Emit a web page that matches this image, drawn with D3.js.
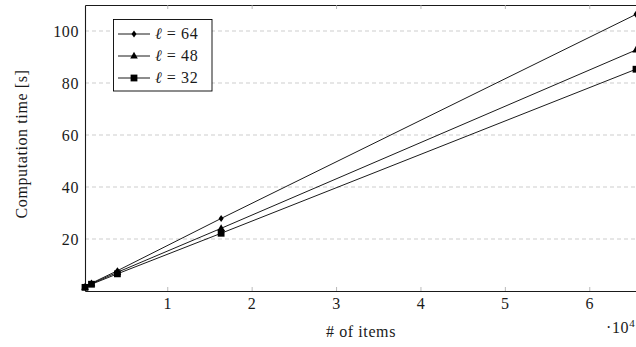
<!DOCTYPE html>
<html><head><meta charset="utf-8">
<script src="https://cdn.jsdelivr.net/npm/d3@7"></script>
<style>body{margin:0;background:#fff}svg{display:block}</style>
</head><body><svg id="c" width="636" height="347"></svg>
<script>
const items = [256, 1024, 4096, 16384, 65536];
const seriesNames = ["ℓ = 64", "ℓ = 48", "ℓ = 32"];
const l64 = [1.6, 3.0, 7.8, 27.9, 106.4];
const l48 = [1.5, 2.8, 7.2, 24.1, 92.7];
const l32 = [1.4, 2.6, 6.6, 22.2, 85.3];
const markers = ["diamond", "triangle", "square"];
const xTicks = [1, 2, 3, 4, 5, 6];
const yTicks = [20, 40, 60, 80, 100];

const FONT = '"Liberation Serif", serif';
const FS = "16px";
const LS = "0.6px";
const svg = d3.select("#c");
const m = {l: 85, r: 636, t: 5, b: 291};
const x = d3.scaleLinear().domain([256, 65536]).range([m.l, m.r]);
const y = d3.scaleLinear().domain([0, 110]).range([m.b, m.t]);
function styleText(sel) {
  return sel.style("font-family", FONT).style("font-size", FS).style("letter-spacing", LS).style("fill", "#1a1a1a");
}

// grid
svg.append("g").selectAll("line").data(yTicks).join("line")
  .attr("x1", m.l).attr("x2", m.r).attr("y1", d => y(d)).attr("y2", d => y(d))
  .attr("stroke", "#c0c0c0").attr("stroke-width", 0.8).attr("stroke-dasharray", "4,3");

// axes
const xAxis = d3.axisBottom(x).tickValues(xTicks.map(v => v * 1e4)).tickFormat(d => d / 1e4).tickSizeInner(-4).tickSizeOuter(0).tickPadding(7);
const gx = svg.append("g").attr("transform", `translate(0,${m.b})`).call(xAxis);
const xTop = d3.axisTop(x).tickValues(xTicks.map(v => v * 1e4)).tickFormat("").tickSizeInner(-4).tickSizeOuter(0);
const gxt = svg.append("g").attr("transform", `translate(0,${m.t})`).call(xTop);
const yAxis = d3.axisLeft(y).tickValues(yTicks).tickSizeInner(0).tickSizeOuter(0).tickPadding(6);
const gy = svg.append("g").attr("transform", `translate(${m.l},0)`).call(yAxis);
[gx, gxt, gy].forEach(g => {
  g.select(".domain").attr("stroke", "#1a1a1a").attr("stroke-width", 1.1);
  g.selectAll(".tick line").attr("stroke", "#a8a8a8").attr("stroke-width", 0.8);
  styleText(g.selectAll("text"));
});
gy.selectAll("text").attr("dy", "0.35em");

// axis labels
styleText(svg.append("text")).attr("x", 361).attr("y", 337).attr("text-anchor", "middle").text("# of items");
styleText(svg.append("text")).attr("transform", "translate(27,144) rotate(-90)").attr("text-anchor", "middle").text("Computation time [s]");
const sc = styleText(svg.append("text")).attr("x", 606).attr("y", 333);
sc.append("tspan").text("·10");
sc.append("tspan").attr("dy", -6).style("font-size", "11px").text("4");

// series
const all = [l64, l48, l32];
function drawMarker(g, type, cx, cy) {
  let d;
  if (type === "diamond") d = "M0,-3.5L2.5,0L0,3.5L-2.5,0Z";
  else if (type === "triangle") d = "M0,-4.2L3.8,2.6L-3.8,2.6Z";
  else d = "M-3.4,-3.4H3.4V3.4H-3.4Z";
  g.append("path").attr("d", d).attr("transform", `translate(${cx},${cy})`).attr("fill", "#000");
}
const line = d3.line().x((d, i) => x(items[i])).y(d => y(d));
const plot = svg.append("g");
all.forEach((s, k) => {
  plot.append("path").datum(s).attr("d", line).attr("fill", "none").attr("stroke", "#000").attr("stroke-width", 0.9);
  s.forEach((v, i) => drawMarker(plot, markers[k], x(items[i]), y(v)));
});

// legend
const lg = svg.append("g");
lg.append("rect").attr("x", 113.5).attr("y", 19.5).attr("width", 98.5).attr("height", 71.5).attr("fill", "#fff").attr("stroke", "#000").attr("stroke-width", 0.9);
seriesNames.forEach((n, k) => {
  const cy = 34 + k * 22;
  lg.append("line").attr("x1", 118).attr("x2", 150).attr("y1", cy).attr("y2", cy).attr("stroke", "#000").attr("stroke-width", 0.9);
  drawMarker(lg, markers[k], 134, cy);
  const t = styleText(lg.append("text")).attr("x", 155).attr("y", cy + 5);
  const parts = n.split(" = ");
  t.append("tspan").style("font-style", "italic").text(parts[0]);
  t.append("tspan").text(" = " + parts[1]);
});
</script></body></html>
